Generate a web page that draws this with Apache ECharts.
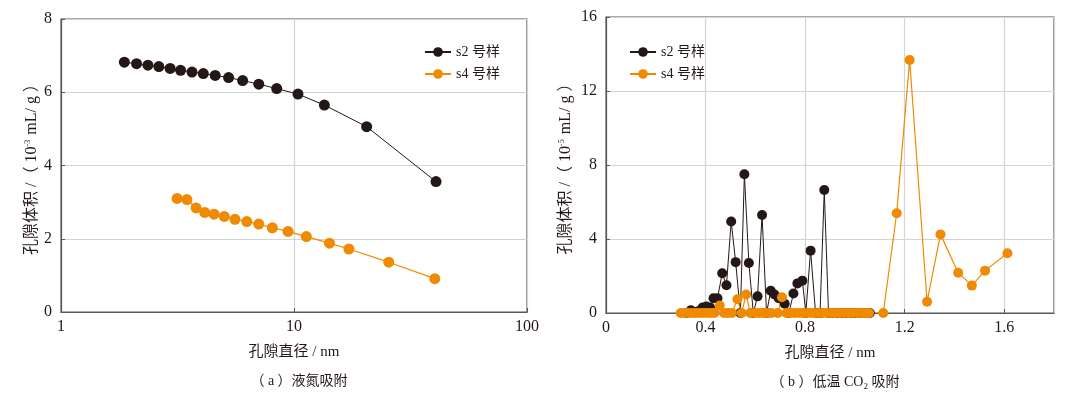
<!DOCTYPE html>
<html>
<head>
<meta charset="utf-8">
<script src="https://cdn.jsdelivr.net/npm/echarts@6/dist/echarts.min.js"></script>
<style>
  html, body { margin: 0; padding: 0; background: #fff; }
  #main { width: 1080px; height: 398px; }
</style>
</head>
<body>
<div id="main"></div>
<script>
// (a) 液氮吸附 —— 孔径 nm / 孔隙体积 10^-3 mL/g
var n2DiaS2 = [1.87, 2.11, 2.36, 2.63, 2.94, 3.26, 3.65, 4.08, 4.59, 5.24, 6.02, 7.06, 8.43, 10.4, 13.5, 20.5, 40.7];
var n2VolS2 = [6.82, 6.78, 6.74, 6.70, 6.65, 6.60, 6.55, 6.51, 6.46, 6.40, 6.32, 6.22, 6.10, 5.95, 5.65, 5.06, 3.56];
var n2DiaS4 = [3.15, 3.47, 3.80, 4.14, 4.54, 5.02, 5.58, 6.27, 7.06, 8.07, 9.43, 11.3, 14.2, 17.2, 25.5, 40.2];
var n2VolS4 = [3.10, 3.07, 2.84, 2.72, 2.67, 2.61, 2.53, 2.47, 2.40, 2.30, 2.20, 2.06, 1.88, 1.72, 1.36, 0.91];

// (b) 低温 CO2 吸附 —— 孔径 nm / 孔隙体积 10^-5 mL/g
var co2DiaS2 = [0.325, 0.341, 0.357, 0.372, 0.388, 0.403, 0.418, 0.432, 0.448, 0.467, 0.484, 0.503, 0.521, 0.540,
  0.556, 0.574, 0.592, 0.609, 0.627, 0.645, 0.662, 0.677, 0.694, 0.718, 0.735, 0.753, 0.769, 0.789, 0.803,
  0.822, 0.842, 0.860, 0.877, 0.894, 0.911, 0.930, 0.950, 0.965, 0.985, 1.000, 1.020, 1.040, 1.060];
var co2VolS2 = [0, 0.15, 0.05, 0.1, 0.3, 0.35, 0.3, 0.8, 0.8, 2.15, 1.5, 4.95, 2.75, 0,
  7.5, 2.7, 0, 0.9, 5.3, 0, 1.2, 1.0, 0.8, 0.5, 0, 1.05, 1.6, 1.75, 0,
  3.37, 0, 0, 6.65, 0, 0, 0, 0, 0, 0, 0, 0, 0, 0];
var co2DiaS4 = [0.300, 0.315, 0.330, 0.345, 0.360, 0.375, 0.390, 0.405, 0.420, 0.435, 0.457, 0.474, 0.490, 0.506,
  0.528, 0.545, 0.563, 0.580, 0.597, 0.614, 0.630, 0.647, 0.664, 0.690, 0.707, 0.725, 0.740, 0.757, 0.774,
  0.790, 0.806, 0.823, 0.840, 0.857, 0.873, 0.890, 0.907, 0.923, 0.940, 0.957, 0.973, 0.990, 1.007, 1.023,
  1.040, 1.057, 1.114, 1.168, 1.220, 1.290, 1.344, 1.415, 1.470, 1.523, 1.613];
var co2VolS4 = [0, 0, 0, 0, 0, 0, 0, 0, 0, 0, 0.4, 0, 0, 0,
  0.74, 0, 1.0, 0, 0, 0, 0, 0, 0, 0, 0.85, 0, 0, 0, 0,
  0, 0, 0, 0, 0, 0, 0, 0, 0, 0, 0, 0, 0, 0, 0,
  0, 0, 0, 5.39, 13.68, 0.61, 4.25, 2.18, 1.48, 2.29, 3.23];

var seriesNames = ['s2 号样', 's4 号样'];
var colors = ['#231815', '#f08a00'];

function pairs(xs, ys) {
  var out = [];
  for (var i = 0; i < xs.length; i++) out.push([xs[i], ys[i]]);
  return out;
}

var fontLatin = 'Liberation Serif, "Noto Sans CJK SC", serif';
var fontCjk = 'Liberation Serif, "Noto Sans CJK SC", sans-serif';
var axisColor = '#595757';
var gridColor = '#d4d4d4';
var textColor = '#231815';

function yName(exp) {
  return '孔隙体积 /（ 10{sup|' + exp + '} mL/ g ）';
}

var supStyle = { fontSize: 8, verticalAlign: 'top', padding: [0, 1, 7, 0], fontFamily: fontLatin, color: textColor };

var chart = echarts.init(document.getElementById('main'));

var option = {
  backgroundColor: '#ffffff',
  color: colors,
  animation: false,
  title: [
    { text: '（ a ）液氮吸附', left: 294, top: 369, textAlign: 'center',
      textStyle: { fontFamily: fontCjk, fontSize: 14, fontWeight: 'normal', color: textColor } },
    { text: '（ b ）低温 CO{sub|2} 吸附', left: 830, top: 369, textAlign: 'center',
      textStyle: { fontFamily: fontCjk, fontSize: 14, fontWeight: 'normal', color: textColor,
        rich: { sub: { fontSize: 9, verticalAlign: 'bottom', padding: [8, 0, 0, 0], fontFamily: fontCjk, color: textColor } } } }
  ],
  legend: [
    { data: seriesNames, orient: 'vertical', left: 419, top: 40, itemWidth: 26, itemHeight: 12, itemGap: 8,
      textStyle: { fontFamily: fontCjk, fontSize: 14, color: textColor } },
    { data: seriesNames, orient: 'vertical', left: 624, top: 40, itemWidth: 26, itemHeight: 12, itemGap: 8,
      textStyle: { fontFamily: fontCjk, fontSize: 14, color: textColor } }
  ],
  grid: [
    { left: 61, top: 19, width: 466, height: 293, show: true, borderColor: axisColor, borderWidth: 1.2 },
    { left: 606, top: 17, width: 448, height: 296, show: true, borderColor: axisColor, borderWidth: 1.2 }
  ],
  xAxis: [
    {
      gridIndex: 0, type: 'log', logBase: 10, min: 1, max: 100,
      name: '孔隙直径 / nm', nameLocation: 'middle', nameGap: 33,
      nameTextStyle: { fontFamily: fontCjk, fontSize: 15, color: textColor },
      axisLine: { lineStyle: { color: axisColor, width: 1.2 } },
      axisTick: { inside: true, length: 4, lineStyle: { color: axisColor } },
      minorTick: { show: false },
      axisLabel: { fontFamily: fontLatin, fontSize: 16, color: textColor, margin: 7 },
      splitLine: { show: true, lineStyle: { color: gridColor, width: 1.2 } }
    },
    {
      gridIndex: 1, type: 'value', min: 0, max: 1.8, interval: 0.4,
      name: '孔隙直径 / nm', nameLocation: 'middle', nameGap: 33,
      nameTextStyle: { fontFamily: fontCjk, fontSize: 15, color: textColor },
      axisLine: { lineStyle: { color: axisColor, width: 1.2 } },
      axisTick: { inside: true, length: 4, lineStyle: { color: axisColor } },
      axisLabel: { fontFamily: fontLatin, fontSize: 16, color: textColor, margin: 7, showMaxLabel: false,
        formatter: function (v) { return v > 1.7 ? '' : String(Math.round(v * 10) / 10); } },
      splitLine: { show: true, lineStyle: { color: gridColor, width: 1.2 } }
    }
  ],
  yAxis: [
    {
      gridIndex: 0, type: 'value', min: 0, max: 8, interval: 2,
      name: yName('-3'), nameLocation: 'middle', nameGap: 21,
      nameTextStyle: { fontFamily: fontCjk, fontSize: 16, color: textColor, rich: { sup: supStyle } },
      axisLine: { lineStyle: { color: axisColor, width: 1.2 } },
      axisTick: { inside: true, length: 4, lineStyle: { color: axisColor } },
      axisLabel: { fontFamily: fontLatin, fontSize: 16, color: textColor, margin: 9 },
      splitLine: { show: true, lineStyle: { color: gridColor, width: 1.2 } }
    },
    {
      gridIndex: 1, type: 'value', min: 0, max: 16, interval: 4,
      name: yName('-5'), nameLocation: 'middle', nameGap: 32,
      nameTextStyle: { fontFamily: fontCjk, fontSize: 16, color: textColor, rich: { sup: supStyle } },
      axisLine: { lineStyle: { color: axisColor, width: 1.2 } },
      axisTick: { inside: true, length: 4, lineStyle: { color: axisColor } },
      axisLabel: { fontFamily: fontLatin, fontSize: 16, color: textColor, margin: 9 },
      splitLine: { show: true, lineStyle: { color: gridColor, width: 1.2 } }
    }
  ],
  series: [
    { name: seriesNames[0], type: 'line', xAxisIndex: 0, yAxisIndex: 0, data: pairs(n2DiaS2, n2VolS2),
      symbol: 'circle', symbolSize: 11, lineStyle: { width: 1, color: colors[0] }, itemStyle: { color: colors[0] } },
    { name: seriesNames[1], type: 'line', xAxisIndex: 0, yAxisIndex: 0, data: pairs(n2DiaS4, n2VolS4),
      symbol: 'circle', symbolSize: 11, lineStyle: { width: 1.2, color: colors[1] }, itemStyle: { color: colors[1] } },
    { name: seriesNames[0], type: 'line', xAxisIndex: 1, yAxisIndex: 1, data: pairs(co2DiaS2, co2VolS2),
      symbol: 'circle', symbolSize: 10, lineStyle: { width: 1, color: colors[0] }, itemStyle: { color: colors[0] } },
    { name: seriesNames[1], type: 'line', xAxisIndex: 1, yAxisIndex: 1, data: pairs(co2DiaS4, co2VolS4),
      symbol: 'circle', symbolSize: 10, lineStyle: { width: 1.2, color: colors[1] }, itemStyle: { color: colors[1] } }
  ]
};

chart.setOption(option);
</script>
</body>
</html>
